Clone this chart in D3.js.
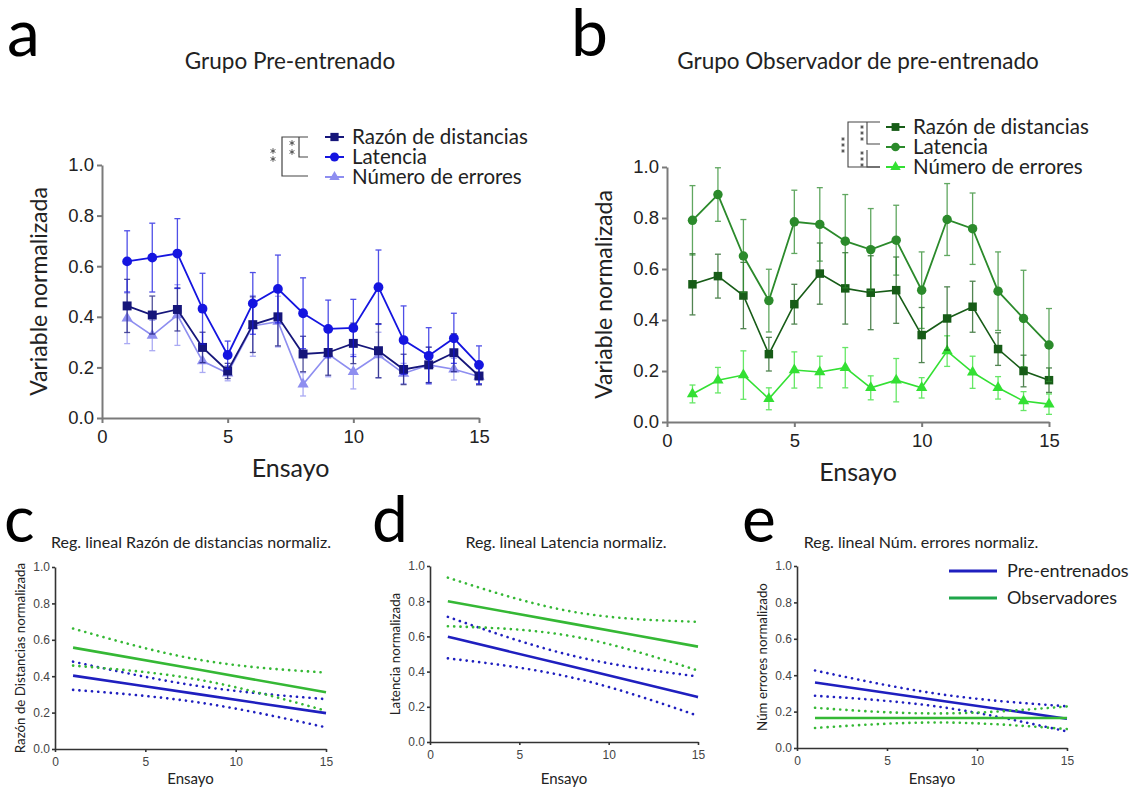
<!DOCTYPE html>
<html>
<head>
<meta charset="utf-8">
<script src="https://cdn.jsdelivr.net/npm/d3@7/dist/d3.min.js"></script>
<style>
  body { margin: 0; background: #fff; }
  svg { font-family: Lato, "Open Sans", sans-serif; }
</style>
</head>
<body>
<svg id="chart" width="1135" height="789"></svg>
<script>
// trials (Ensayo)
const trials = [1, 2, 3, 4, 5, 6, 7, 8, 9, 10, 11, 12, 13, 14, 15];

// panel a - Grupo Pre-entrenado (mean, SEM)
const preRazon     = [0.443, 0.407, 0.429, 0.279, 0.186, 0.369, 0.400, 0.253, 0.259, 0.295, 0.266, 0.192, 0.210, 0.258, 0.166];
const preRazonErr  = [0.105, 0.075, 0.085, 0.060, 0.030, 0.110, 0.115, 0.070, 0.090, 0.080, 0.107, 0.060, 0.070, 0.075, 0.035];
const preLatencia  = [0.619, 0.634, 0.650, 0.432, 0.249, 0.453, 0.510, 0.414, 0.352, 0.356, 0.517, 0.308, 0.246, 0.315, 0.210];
const preLatErr    = [0.121, 0.136, 0.138, 0.140, 0.055, 0.122, 0.134, 0.140, 0.114, 0.113, 0.147, 0.135, 0.111, 0.099, 0.075];
const preErrores   = [0.394, 0.326, 0.407, 0.225, 0.177, 0.364, 0.381, 0.133, 0.253, 0.183, 0.249, 0.176, 0.210, 0.193, 0.164];
const preErrErr    = [0.100, 0.060, 0.120, 0.045, 0.030, 0.120, 0.100, 0.046, 0.090, 0.068, 0.090, 0.040, 0.070, 0.043, 0.030];

// panel b - Grupo Observador de pre-entrenado (mean, SEM)
const obsRazon     = [0.540, 0.572, 0.496, 0.266, 0.462, 0.582, 0.524, 0.507, 0.517, 0.341, 0.406, 0.452, 0.286, 0.200, 0.164];
const obsRazonErr  = [0.120, 0.086, 0.130, 0.066, 0.078, 0.120, 0.140, 0.145, 0.130, 0.108, 0.124, 0.100, 0.064, 0.062, 0.048];
const obsLatencia  = [0.791, 0.892, 0.651, 0.476, 0.785, 0.775, 0.709, 0.676, 0.713, 0.517, 0.794, 0.758, 0.513, 0.406, 0.302];
const obsLatErr    = [0.136, 0.105, 0.143, 0.123, 0.124, 0.144, 0.183, 0.161, 0.137, 0.150, 0.141, 0.140, 0.154, 0.189, 0.143];
const obsErrores   = [0.110, 0.164, 0.184, 0.091, 0.204, 0.196, 0.213, 0.134, 0.164, 0.134, 0.278, 0.195, 0.134, 0.082, 0.070];
const obsErrErr    = [0.035, 0.050, 0.095, 0.043, 0.071, 0.062, 0.079, 0.047, 0.085, 0.040, 0.060, 0.063, 0.044, 0.037, 0.040];

const legendLabels = ['Razón de distancias', 'Latencia', 'Número de errores'];
const xTicks = [0, 5, 10, 15];
const yTicks = [0, 0.2, 0.4, 0.6, 0.8, 1.0];

// regression panels: fit and 95% band read at trials 1, 8, 15
const regX = [1, 8, 15];
const regRazonPre     = [0.403, 0.300, 0.197];
const regRazonPreLo   = [0.325, 0.255, 0.119];
const regRazonPreHi   = [0.480, 0.345, 0.274];
const regRazonObs     = [0.557, 0.435, 0.312];
const regRazonObsLo   = [0.458, 0.380, 0.210];
const regRazonObsHi   = [0.662, 0.490, 0.420];

const regLatPre       = [0.598, 0.427, 0.255];
const regLatPreLo     = [0.475, 0.365, 0.149];
const regLatPreHi     = [0.711, 0.490, 0.372];
const regLatObs       = [0.800, 0.671, 0.542];
const regLatObsLo     = [0.658, 0.600, 0.406];
const regLatObsHi     = [0.934, 0.740, 0.683];

const regErrPre       = [0.360, 0.260, 0.161];
const regErrPreLo     = [0.287, 0.225, 0.091];
const regErrPreHi     = [0.426, 0.295, 0.229];
const regErrObs       = [0.165, 0.165, 0.165];
const regErrObsLo     = [0.110, 0.140, 0.104];
const regErrObsHi     = [0.221, 0.190, 0.228];

const regLegend = ['Pre-entrenados', 'Observadores'];

const svg = d3.select('#chart');

// styles a single axis group
const styleAxis = (g, fontSize, color, width) => {
  g.select('.domain').attr('stroke', color).attr('stroke-width', width);
  g.selectAll('.tick line').attr('stroke', color).attr('stroke-width', width);
  g.selectAll('.tick text').attr('fill', '#222').style('font-size', fontSize + 'px');
};

/**
 * Group panel (a / b): three series with SEM bars
 */
const groupPanel = (cfg) => {
  const x = d3.scaleLinear().domain([0, 15]).range([cfg.left, cfg.right]);
  const y = d3.scaleLinear().domain([0, 1]).range([cfg.bottom, cfg.top]);
  const g = svg.append('g');

  g.append('text').attr('x', cfg.letterX).attr('y', 56)
    .style('font-size', '66px').attr('fill', '#000').text(cfg.letter);
  g.append('text').attr('x', cfg.titleX).attr('y', 69).attr('text-anchor', 'middle')
    .style('font-size', '22.5px').attr('fill', '#222').text(cfg.title);

  const xa = g.append('g').attr('transform', `translate(0,${cfg.bottom})`)
    .call(d3.axisBottom(x).tickValues(xTicks).tickSize(5).tickPadding(7).tickSizeOuter(0));
  styleAxis(xa, 18.5, '#7a7a7a', 2);
  const ya = g.append('g').attr('transform', `translate(${cfg.left},0)`)
    .call(d3.axisLeft(y).tickValues(yTicks).tickFormat(d3.format('.1f')).tickSize(5).tickPadding(3).tickSizeOuter(0));
  styleAxis(ya, 18.5, '#7a7a7a', 2);

  g.append('text').attr('x', (cfg.left + cfg.right) / 2).attr('y', cfg.bottom + 59)
    .attr('text-anchor', 'middle').style('font-size', '25px').attr('fill', '#222').text('Ensayo');
  g.append('text')
    .attr('transform', `translate(${cfg.left - 55},${(cfg.top + cfg.bottom) / 2}) rotate(-90)`)
    .attr('text-anchor', 'middle').style('font-size', '23px').attr('fill', '#222')
    .text('Variable normalizada');

  const line = d3.line().x((d, i) => x(trials[i])).y(d => y(d));

  // drawing order: errores, razon, latencia
  [2, 0, 1].forEach(k => {
    const s = cfg.series[k];
    const eb = g.append('g').attr('stroke', s.color).attr('stroke-width', 1.3).attr('opacity', 0.75);
    s.values.forEach((v, i) => {
      const cx = x(trials[i]);
      eb.append('line').attr('x1', cx).attr('x2', cx).attr('y1', y(v - s.err[i])).attr('y2', y(v + s.err[i]));
      eb.append('line').attr('x1', cx - 3).attr('x2', cx + 3).attr('y1', y(v + s.err[i])).attr('y2', y(v + s.err[i]));
      eb.append('line').attr('x1', cx - 3).attr('x2', cx + 3).attr('y1', y(v - s.err[i])).attr('y2', y(v - s.err[i]));
    });
    g.append('path').datum(s.values).attr('d', line)
      .attr('fill', 'none').attr('stroke', s.color).attr('stroke-width', s.width);
    g.selectAll(null).data(s.values).enter().append('path')
      .attr('transform', (d, i) => `translate(${x(trials[i])},${y(d)})`)
      .attr('d', d3.symbol().type(s.symbol).size(s.size))
      .attr('fill', s.color);
  });

  // legend
  const lg = g.append('g');
  cfg.series.forEach((s, k) => {
    const ry = cfg.legendRows[k];
    lg.append('line').attr('x1', cfg.legendX).attr('x2', cfg.legendX + 19).attr('y1', ry).attr('y2', ry)
      .attr('stroke', s.color).attr('stroke-width', 2);
    lg.append('path').attr('transform', `translate(${cfg.legendX + 9.5},${ry})`)
      .attr('d', d3.symbol().type(s.symbol).size(s.size * 0.85)).attr('fill', s.color);
    lg.append('text').attr('x', cfg.legendX + 27).attr('y', ry + 7)
      .style('font-size', '20.5px').attr('fill', '#222').text(legendLabels[k]);
  });
  return g;
};

const ga = groupPanel({
  letter: 'a', letterX: 7, title: 'Grupo Pre-entrenado', titleX: 290,
  left: 102, right: 479, top: 165, bottom: 418,
  legendX: 325, legendRows: [137, 157, 177],
  series: [
    { values: preRazon, err: preRazonErr, color: '#16167a', symbol: d3.symbolSquare, size: 80, width: 1.8 },
    { values: preLatencia, err: preLatErr, color: '#1515e0', symbol: d3.symbolCircle, size: 75, width: 1.8 },
    { values: preErrores, err: preErrErr, color: '#8e8ef0', symbol: d3.symbolTriangle, size: 55, width: 1.6 }
  ]
});

const gb = groupPanel({
  letter: 'b', letterX: 571, title: 'Grupo Observador de pre-entrenado', titleX: 858,
  left: 667, right: 1049, top: 167, bottom: 422,
  legendX: 886, legendRows: [127, 147, 167],
  series: [
    { values: obsRazon, err: obsRazonErr, color: '#175c17', symbol: d3.symbolSquare, size: 72, width: 1.6 },
    { values: obsLatencia, err: obsLatErr, color: '#2b8a2b', symbol: d3.symbolCircle, size: 70, width: 1.8 },
    { values: obsErrores, err: obsErrErr, color: '#33e033', symbol: d3.symbolTriangle, size: 55, width: 1.6 }
  ]
});

// significance brackets, asterisks drawn as symbols stacked vertically
const bracket = (g, d, sw) => g.append('path').attr('d', d).attr('fill', 'none')
  .attr('stroke', '#444').attr('stroke-width', sw);
const stars = (g, xs, ys, size) => ys.forEach(yy => g.append('path')
  .attr('transform', `translate(${xs},${yy})`)
  .attr('d', d3.symbol().type(d3.symbolAsterisk).size(size))
  .attr('fill', 'none').attr('stroke', '#444').attr('stroke-width', 0.9));

bracket(ga, 'M308,137H282V176H308', 1.2);
bracket(ga, 'M299,137V157H308', 1.2);
stars(ga, 292, [143, 152], 22);
stars(ga, 273, [151, 159], 22);

bracket(gb, 'M880,122H848V167H880', 1.1);
bracket(gb, 'M867,122V144H880M867,150V167H880', 1.1);
stars(gb, 862, [127, 133, 139], 9);
stars(gb, 862, [153, 159, 165], 9);
stars(gb, 843, [139, 145, 151], 9);

/**
 * Regression panel (c / d / e)
 */
const regPanel = (cfg) => {
  const x = d3.scaleLinear().domain([0, 15]).range([cfg.left, cfg.right]);
  const y = d3.scaleLinear().domain([0, 1]).range([cfg.bottom, cfg.top]);
  const g = svg.append('g');

  g.append('text').attr('x', cfg.letterX).attr('y', 542)
    .style('font-size', '64px').attr('fill', '#000').text(cfg.letter);
  g.append('text').attr('x', cfg.titleX).attr('y', 548).attr('text-anchor', 'middle')
    .style('font-size', '16px').attr('fill', '#222').text(cfg.title);

  const xa = g.append('g').attr('transform', `translate(0,${cfg.bottom})`)
    .call(d3.axisBottom(x).tickValues(xTicks).tickSize(3).tickPadding(5).tickSizeOuter(0));
  styleAxis(xa, 12, '#333', 1.6);
  const ya = g.append('g').attr('transform', `translate(${cfg.left},0)`)
    .call(d3.axisLeft(y).tickValues(yTicks).tickFormat(d3.format('.1f')).tickSize(3).tickPadding(2).tickSizeOuter(0));
  styleAxis(ya, 12, '#333', 1.6);
  g.selectAll('.tick text').attr('fill', '#444');

  g.append('text').attr('x', (cfg.left + cfg.right) / 2).attr('y', 784)
    .attr('text-anchor', 'middle').style('font-size', '15px').attr('fill', '#222').text('Ensayo');
  g.append('text')
    .attr('transform', `translate(${cfg.left - 30},${(cfg.top + cfg.bottom) / 2}) rotate(-90)`)
    .attr('text-anchor', 'middle').style('font-size', '13.3px').attr('fill', '#222').text(cfg.yLabel);

  const line = d3.line().x((d, i) => x(regX[i])).y(d => y(d)).curve(d3.curveNatural);
  const blue = '#1f1fbf', green = '#35b835';
  [[cfg.pre, blue], [cfg.obs, green]].forEach(([set, col]) => {
    [set[1], set[2]].forEach(band => {
      g.append('path').datum(band).attr('d', line).attr('fill', 'none')
        .attr('stroke', col).attr('stroke-width', 2.6).attr('stroke-linecap', 'round')
        .attr('stroke-dasharray', '0.1,6.2');
    });
    g.append('path').datum(set[0]).attr('d', line).attr('fill', 'none')
      .attr('stroke', col).attr('stroke-width', 2.6);
  });
  return g;
};

regPanel({
  letter: 'c', letterX: 4, title: 'Reg. lineal Razón de distancias normaliz.', titleX: 191,
  yLabel: 'Razón de Distancias normalizada',
  left: 55, right: 326, top: 567, bottom: 749,
  pre: [regRazonPre, regRazonPreLo, regRazonPreHi],
  obs: [regRazonObs, regRazonObsLo, regRazonObsHi]
});

regPanel({
  letter: 'd', letterX: 372, title: 'Reg. lineal Latencia normaliz.', titleX: 566,
  yLabel: 'Latencia normalizada',
  left: 430, right: 698, top: 566, bottom: 742,
  pre: [regLatPre, regLatPreLo, regLatPreHi],
  obs: [regLatObs, regLatObsLo, regLatObsHi]
});

const ge = regPanel({
  letter: 'e', letterX: 742, title: 'Reg. lineal Núm. errores normaliz.', titleX: 921,
  yLabel: 'Núm errores normalizado',
  left: 797, right: 1067, top: 566, bottom: 748,
  pre: [regErrPre, regErrPreLo, regErrPreHi],
  obs: [regErrObs, regErrObsLo, regErrObsHi]
});

// legend for regression panels
[['#1f1fbf', 571], ['#1fa64a', 598]].forEach(([col, ly], k) => {
  ge.append('line').attr('x1', 949).attr('x2', 997).attr('y1', ly).attr('y2', ly)
    .attr('stroke', col).attr('stroke-width', 3);
  ge.append('text').attr('x', 1007).attr('y', ly + 6)
    .style('font-size', '18px').attr('fill', '#222').text(regLegend[k]);
});
</script>
</body>
</html>
